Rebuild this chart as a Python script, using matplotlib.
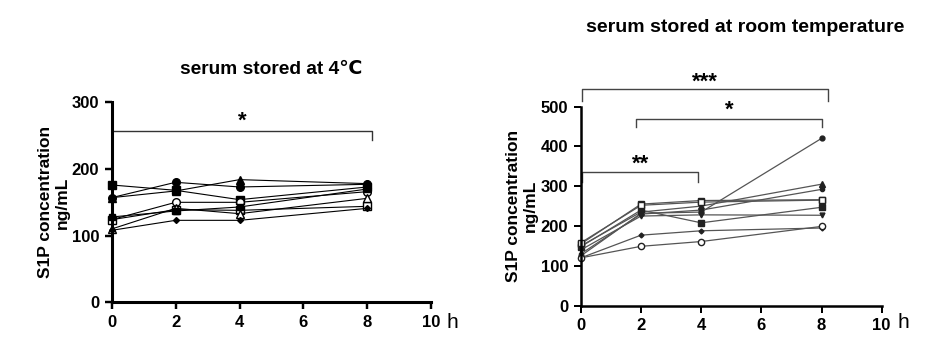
import numpy as np
import matplotlib.pyplot as plt

plt.rcParams['font.family'] = ['Liberation Sans', 'DejaVu Sans']

hours = [0, 2, 4, 8]

# serum stored at 4 C (ng/mL)
cold_series = [
    [176, 168, 154, 173],
    [157, 180, 173, 177],
    [157, 167, 184, 178],
    [124, 150, 150, 166],
    [124, 139, 138, 144],
    [110, 141, 133, 156],
    [108, 123, 123, 141],
    [128, 137, 143, 170],
]
cold_markers = ['s', 'o', '^', 'o', 's', '^', 'D', 's']
cold_filled = [True, True, True, False, False, False, True, True]
cold_msize = [5.5, 5.5, 5.5, 5.5, 5.5, 5.5, 3, 4.5]

# serum stored at room temperature (ng/mL)
room_series = [
    [125, 232, 235, 420],
    [150, 235, 250, 305],
    [155, 255, 264, 266],
    [148, 240, 208, 247],
    [140, 225, 228, 227],
    [130, 230, 240, 292],
    [158, 252, 260, 265],
    [120, 177, 188, 195],
    [120, 149, 161, 199],
]
room_markers = ['o', '^', 's', 's', 'v', 'o', 's', 'D', 'o']
room_filled = [True, True, False, True, True, True, False, True, False]
room_msize = [3.5, 4.5, 4.5, 4, 3.5, 3, 4.5, 2.5, 4.5]

fig = plt.figure(figsize=(9.46, 3.6), dpi=100)
ax1 = fig.add_axes([0.118, 0.160, 0.338, 0.556])
ax2 = fig.add_axes([0.614, 0.151, 0.318, 0.553])


def style_axis(ax, ymax, lw):
    ax.set_xlim(0, 10)
    ax.set_ylim(0, ymax)
    ax.set_xticks([0, 2, 4, 6, 8, 10])
    ax.set_yticks(np.arange(0, ymax + 1, 100))
    for s in ['top', 'right']:
        ax.spines[s].set_visible(False)
    for s in ['left', 'bottom']:
        ax.spines[s].set_linewidth(lw)
    ax.tick_params(width=lw * 0.8, length=5, labelsize=12, pad=4)
    for lab in ax.get_xticklabels() + ax.get_yticklabels():
        lab.set_fontweight('bold')
    ax.set_ylabel('S1P concentration\nng/mL', fontsize=12.5, fontweight='bold',
                  linespacing=1.15)


def bracket(ax, x0, x1, y, drop, text, ty, color='#444444'):
    ax.plot([x0, x0, x1, x1], [y - drop, y, y, y - drop], color=color, lw=1.0,
            clip_on=False)
    ax.text((x0 + x1) / 2, ty, text, ha='center', va='center', fontsize=16,
            fontweight='bold', clip_on=False)


for vals, m, f, ms in zip(cold_series, cold_markers, cold_filled, cold_msize):
    ax1.plot(hours, vals, color='black', lw=0.8, marker=m, ms=ms,
             mfc='black' if f else 'white', mec='black', mew=1.0, clip_on=False)
style_axis(ax1, 300, 2.2)
ax1.yaxis.set_label_coords(-0.13, 0.5)
bracket(ax1, 0, 8.15, 257, 14, '*', 272, color='#333333')

for vals, m, f, ms in zip(room_series, room_markers, room_filled, room_msize):
    ax2.plot(hours, vals, color='#555555', lw=0.9, marker=m, ms=ms,
             mfc='#222222' if f else 'white', mec='#222222', mew=1.0,
             clip_on=False)
style_axis(ax2, 500, 1.8)
ax2.yaxis.set_label_coords(-0.142, 0.5)
bracket(ax2, 0.05, 8.23, 544, 30, '***', 562)
bracket(ax2, 1.83, 8.03, 468, 20, '*', 491)
bracket(ax2, 0.05, 3.91, 335, 24, '**', 356)

fig.text(271 / 946, 1 - 69 / 360, 'serum stored at 4\u2103', ha='center',
         va='center', fontsize=13.8, fontweight='bold')
fig.text(745 / 946, 1 - 28 / 360, 'serum stored at room temperature',
         ha='center', va='center', fontsize=14, fontweight='bold')
fig.text(452 / 946, 1 - 322 / 360, 'h', ha='center', va='center', fontsize=15)
fig.text(903 / 946, 1 - 322 / 360, 'h', ha='center', va='center', fontsize=15)

fig.savefig('out.png', dpi=100)
